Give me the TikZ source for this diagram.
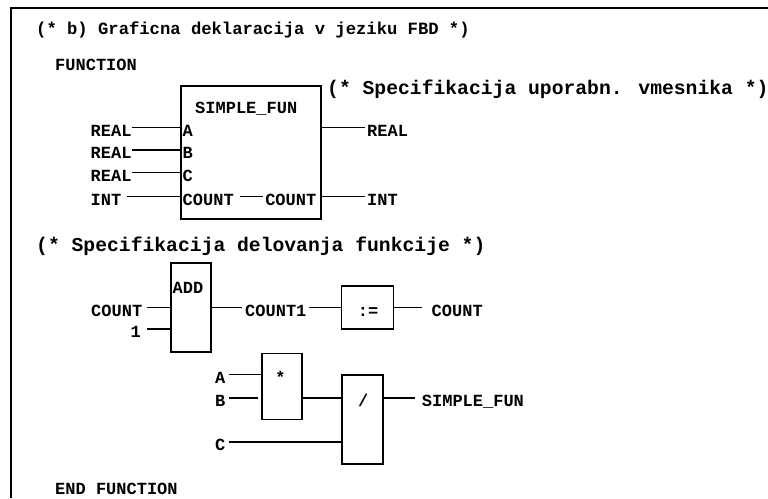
\documentclass[tikz,border=0pt]{standalone}
\usepackage{fontspec}
\setmainfont{Liberation Mono}
\usetikzlibrary{calc}
\newcommand\lblfont{\fontsize{17}{20}\selectfont\bfseries}
\newcommand\titlefont{\fontsize{17.2}{20}\selectfont\bfseries}
\newcommand\bigfont{\fontsize{19.7}{23}\selectfont\bfseries}
\begin{document}
\begin{tikzpicture}[x=1pt,y=-1pt,
  lbl/.style={font=\lblfont, inner sep=0pt, anchor=base west},
  lble/.style={lbl, anchor=base east},
  lblc/.style={lbl, anchor=base},
  big/.style={font=\bigfont, inner sep=0pt, anchor=base west},
  fbox/.style={draw, line width=1.6pt, inner sep=0pt, anchor=north west},
  wire/.style={line width=1.6pt},
  frameline/.style={line width=2.3pt}]
\useasboundingbox (0,0) rectangle (768,498);
% frame
\draw[frameline] (11,498) -- (11,8) -- (768,8);
% headings
\node[lbl, font=\titlefont] (title) at (36,34.5) {(* b) Graficna deklaracija v jeziku FBD *)};
\node[lbl] (fn) at (55,70) {FUNCTION};
\node[big] (cmt1) at (327,94) {(* Specifikacija uporabn. vmesnika *)};
\node[big] (cmt2) at (36,251) {(* Specifikacija delovanja funkcije *)};
\node[lbl] (endfn) at (55,494.5) {END FUNCTION};
% interface block
\node[fbox, minimum width=140pt, minimum height=133pt] (sf) at (180,85) {};
\node[lbl] (sfname) at (195,113) {SIMPLE\_FUN};
\node[lbl] (pa) at (182.5,136) {A};
\node[lbl] (pb) at (182.5,158.5) {B};
\node[lbl] (pc) at (182.5,181) {C};
\node[lbl] (pcnt) at (182.5,205) {COUNT};
\node[lble] (pcnto) at (316.5,205) {COUNT};
\node[lbl] (r1) at (90.5,136) {REAL};
\node[lbl] (r2) at (90.5,158.5) {REAL};
\node[lbl] (r3) at (90.5,181) {REAL};
\node[lbl] (i1) at (90.5,205) {INT};
\node[lbl] (ro) at (367,136) {REAL};
\node[lbl] (io) at (367,205) {INT};
\coordinate (w1) at (131.7,127.5);
\coordinate (w2) at (131.7,150);
\coordinate (w3) at (131.7,172.5);
\coordinate (w4) at (127,196.5);
\coordinate (wo1) at (365,127.5);
\coordinate (wo2) at (365,196.5);
\coordinate (wi1) at (240,196.5);
\coordinate (wi2) at (263,196.5);
\draw[wire] (w1) -- (w1 -| sf.west);
\draw[wire] (w2) -- (w2 -| sf.west);
\draw[wire] (w3) -- (w3 -| sf.west);
\draw[wire] (w4) -- (w4 -| sf.west);
\draw[wire] (wi1) -- (wi2);
\draw[wire] (wo1 -| sf.east) -- (wo1);
\draw[wire] (wo2 -| sf.east) -- (wo2);
% ADD block
\node[fbox, minimum width=40pt, minimum height=89pt] (add) at (170,262) {};
\node[lbl] (addt) at (172.5,293.3) {ADD};
\node[lbl] (lcount) at (91,316) {COUNT};
\node[lble] (lone) at (141,337.5) {1};
\coordinate (ai1) at (147,307.5);
\coordinate (ai2) at (147,329);
\draw[wire] (ai1) -- (ai1 -| add.west);
\draw[wire] (ai2) -- (ai2 -| add.west);
\node[lbl] (cnt1) at (245,316) {COUNT1};
\coordinate (ao1) at (242,307.5);
\coordinate (ao2) at (309,307.5);
\draw[wire] (ao1 -| add.east) -- (ao1);
% assignment block
\node[fbox, minimum width=52pt, minimum height=43pt] (asg) at (340.5,285) {};
\node[lblc] (asgt) at (368,316) {:=};
\draw[wire] (ao2) -- (ao2 -| asg.west);
\coordinate (so) at (422,307.5);
\draw[wire] (so -| asg.east) -- (so);
\node[lbl] (cnt) at (431.5,316) {COUNT};
% multiply block
\node[fbox, minimum width=40pt, minimum height=66pt] (mul) at (261,352.7) {};
\node[lblc] (mult) at (280.5,383) {*};
\node[lbl] (la) at (215,383) {A};
\node[lbl] (lb) at (215,406) {B};
\node[lbl] (lc) at (215,450) {C};
\coordinate (ma) at (229,374.3);
\coordinate (mb) at (229,397.7);
\coordinate (mc) at (229,441.7);
\draw[wire] (ma) -- (ma -| mul.west);
\draw[wire] (mb) -- ($(mb -| mul.west)+(-3,0)$);
% divide block
\node[fbox, minimum width=41.3pt, minimum height=89pt] (dv) at (341,374.3) {};
\node[lblc] (dvt) at (363.3,406) {/};
\draw[wire] (mb -| mul.east) -- (mb -| dv.west);
\draw[wire] (mc) -- (mc -| dv.west);
\coordinate (dvo) at (415,397.7);
\draw[wire] (dvo -| dv.east) -- (dvo);
\node[lbl] (sfout) at (421.7,406) {SIMPLE\_FUN};
\end{tikzpicture}
\end{document}
